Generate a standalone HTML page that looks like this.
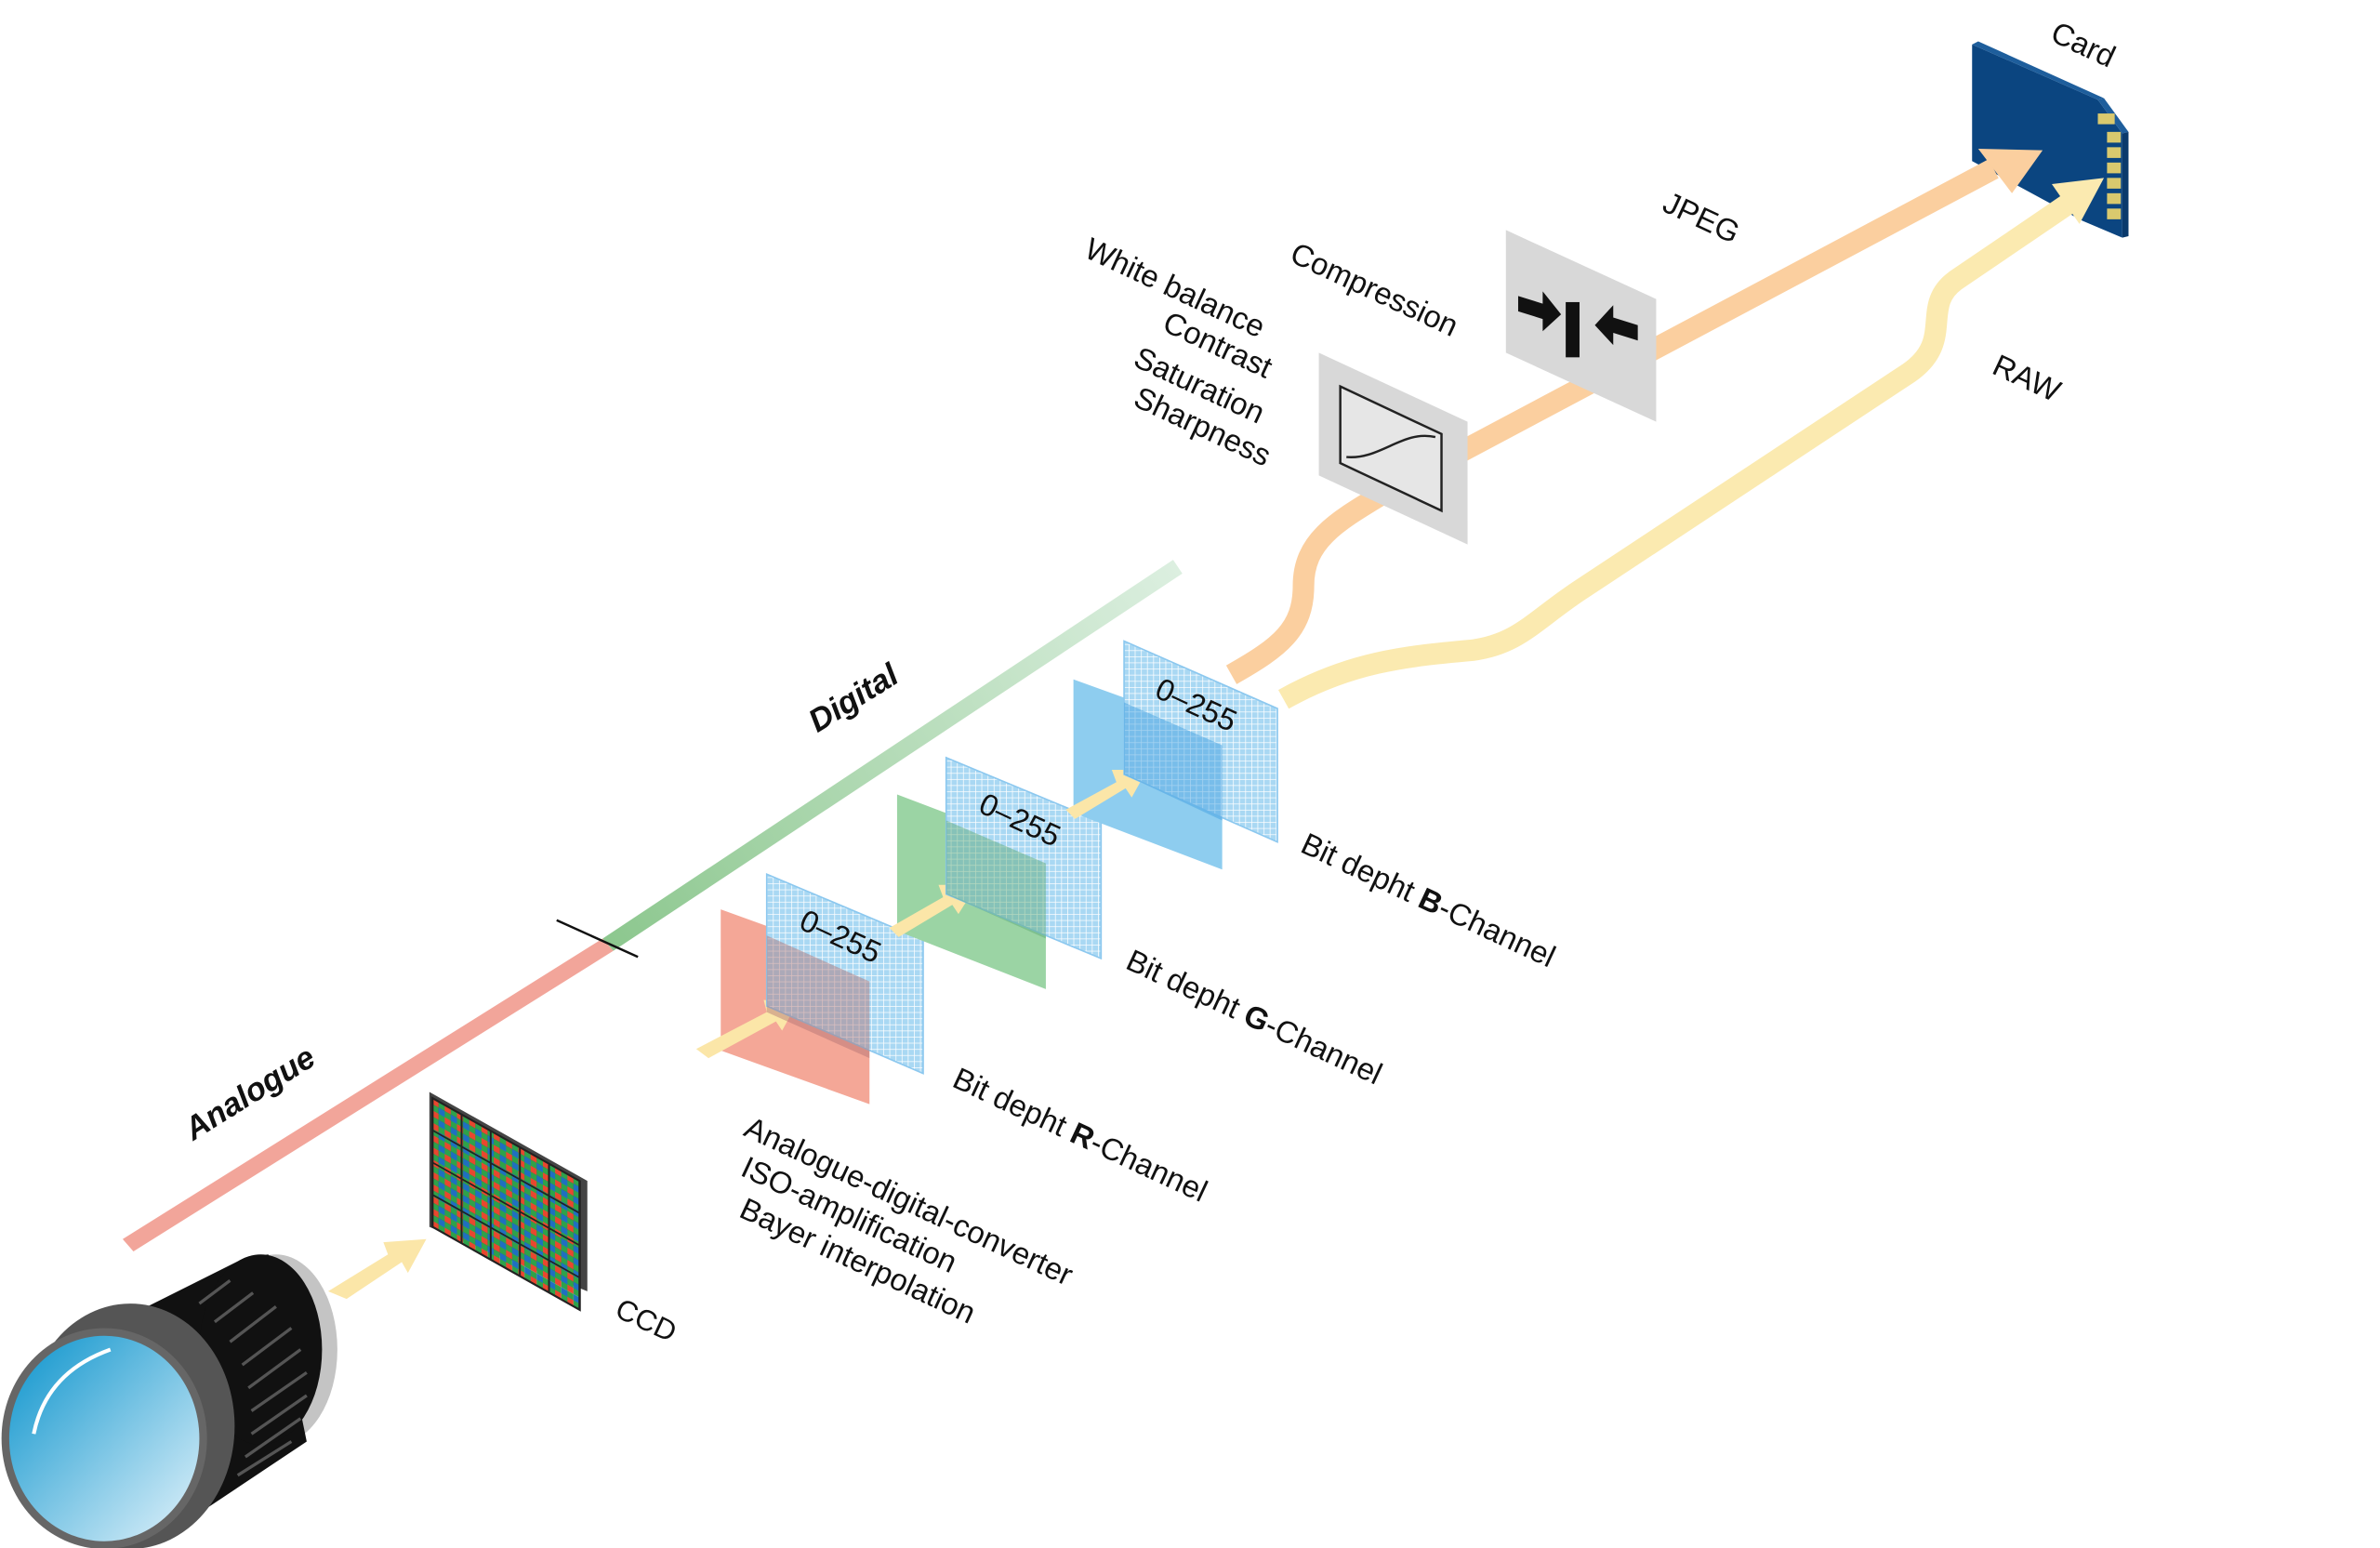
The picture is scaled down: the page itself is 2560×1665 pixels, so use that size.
<!DOCTYPE html>
<html><head><meta charset="utf-8"><style>
html,body{margin:0;padding:0;background:#fff;}
svg{display:block;}
text{font-family:"Liberation Sans","DejaVu Sans",sans-serif;fill:#111;}
</style></head><body>
<svg width="2560" height="1665" viewBox="0 0 1552 1009.4" preserveAspectRatio="none" xmlns="http://www.w3.org/2000/svg">
<defs>
<linearGradient id="dg" x1="395" y1="617" x2="768" y2="370" gradientUnits="userSpaceOnUse">
<stop offset="0" stop-color="#8cc78e"/><stop offset="1" stop-color="#dcefe0"/></linearGradient>
<pattern id="grid" width="4" height="4" patternUnits="userSpaceOnUse">
<rect width="4" height="4" fill="#a9d8f3"/><path d="M0 0H4M0 0V4" stroke="#fff" stroke-width="0.9"/></pattern>
<pattern id="bayer" width="8" height="8" patternUnits="userSpaceOnUse">
<rect width="4" height="4" fill="#e8472f"/><rect x="4" width="4" height="4" fill="#2ea24a"/>
<rect y="4" width="4" height="4" fill="#2ea24a"/><rect x="4" y="4" width="4" height="4" fill="#1f6fc0"/></pattern>
<linearGradient id="lens" x1="0" y1="0" x2="1" y2="1"><stop offset="0" stop-color="#0a93cc"/><stop offset="1" stop-color="#e3f3fb"/></linearGradient>
</defs>
<!-- analogue / digital bar -->
<polygon points="80,808 393,612 400,620 87,816" fill="#f2a59a"/>
<polygon points="393,612 765,365 771,374 400,620" fill="url(#dg)"/>
<line x1="363" y1="600" x2="416" y2="624" stroke="#111" stroke-width="1.5"/>
<text transform="translate(126,744) rotate(-32)" font-size="21" font-weight="bold" font-style="italic">Analogue</text>
<text transform="translate(533,478) rotate(-32)" font-size="21" font-weight="bold" font-style="italic">Digital</text>
<!-- lens -->
<ellipse cx="180" cy="880" rx="40" ry="62" fill="#c4c4c4"/>
<polygon points="60,870 160,820 175,818 200,940 110,1000 40,1000" fill="#111"/>
<ellipse cx="170" cy="880" rx="40" ry="62" fill="#111"/>
<g stroke="#555" stroke-width="2">
<line x1="130" y1="850" x2="150" y2="835"/><line x1="140" y1="862" x2="165" y2="843"/><line x1="150" y1="875" x2="180" y2="852"/><line x1="158" y1="890" x2="190" y2="866"/><line x1="162" y1="905" x2="196" y2="880"/><line x1="164" y1="920" x2="200" y2="895"/><line x1="164" y1="935" x2="200" y2="910"/><line x1="160" y1="950" x2="196" y2="925"/><line x1="155" y1="962" x2="190" y2="940"/>
</g>
<ellipse cx="85" cy="930" rx="68" ry="80" fill="#555"/>
<ellipse cx="68" cy="938" rx="67" ry="72" fill="#666"/>
<ellipse cx="68" cy="938" rx="62" ry="67" fill="url(#lens)"/>
<path d="M22 935 Q30 895 72 880" stroke="#fff" stroke-width="2.5" fill="none"/>
<!-- arrow to ccd -->
<polygon points="214,842 253,818 250,810 278,808 266,830 262,823 226,847" fill="#fbe6a8"/>
<!-- CCD -->
<polygon points="280,712 383,770 383,842 280,800" fill="#444"/>
<g transform="translate(282,716) skewY(29.4)">
<rect width="96" height="84" fill="url(#bayer)"/>
<g stroke="#222" stroke-width="1.2">
<line x1="19" y1="0" x2="19" y2="84"/><line x1="38" y1="0" x2="38" y2="84"/><line x1="57" y1="0" x2="57" y2="84"/><line x1="76" y1="0" x2="76" y2="84"/>
<line x1="0" y1="21" x2="96" y2="21"/><line x1="0" y1="42" x2="96" y2="42"/><line x1="0" y1="63" x2="96" y2="63"/>
</g>
<rect width="96" height="84" fill="none" stroke="#222" stroke-width="1.5"/>
</g>
<text transform="translate(400,858) rotate(25)" font-size="19">CCD</text>
<!-- R channel -->
<polygon points="470,593 567,628 567,720 470,685" fill="#f4a797"/>
<polygon points="454,684 500,660 498,652 520,654 510,672 506,666 462,690" fill="#fbe6a8"/>
<polygon points="500,570 602,613 602,700 500,656" fill="url(#grid)" stroke="#8cc8ef"/>
<polygon points="500,610 567,640 567,690 500,660" fill="#b07070" opacity="0.45"/>
<text transform="translate(520,605) rotate(25)" font-size="20">0–255</text>
<!-- G channel -->
<polygon points="585,518 682,555 682,645 585,607" fill="#9bd4a4"/>
<polygon points="580,605 615,585 612,577 637,577 625,596 621,590 586,611" fill="#fbe6a8"/>
<polygon points="617,494 718,536 718,625 617,583" fill="url(#grid)" stroke="#8cc8ef"/>
<polygon points="617,535 682,563 682,612 617,583" fill="#5aa872" opacity="0.45"/>
<text transform="translate(637,529) rotate(25)" font-size="20">0–255</text>
<!-- B channel -->
<polygon points="700,443 797,478 797,567 700,530" fill="#8ecdef"/>
<polygon points="695,528 728,510 725,502 748,502 738,520 734,514 701,534" fill="#fbe6a8"/>
<polygon points="733,418 833,462 833,549 733,505" fill="url(#grid)" stroke="#8cc8ef"/>
<polygon points="733,458 797,486 797,535 733,505" fill="#3b9ee0" opacity="0.45"/>
<text transform="translate(752,454) rotate(25)" font-size="20">0–255</text>
<!-- channel labels -->
<text transform="translate(620,708) rotate(25)" font-size="20">Bit depht <tspan font-weight="bold">R</tspan>-Channel</text>
<text transform="translate(733,631) rotate(25)" font-size="20">Bit depht <tspan font-weight="bold">G</tspan>-Channel</text>
<text transform="translate(847,555) rotate(25)" font-size="20">Bit depht <tspan font-weight="bold">B</tspan>-Channel</text>
<text transform="translate(484,740) rotate(25)" font-size="20">Analogue-digital-converter</text>
<text transform="translate(482,766) rotate(25)" font-size="20">ISO-amplification</text>
<text transform="translate(481,793) rotate(25)" font-size="20">Bayer interpolation</text>
<!-- SD card -->
<polygon points="1286,29 1368,65 1384,87 1384,155 1358,144 1286,105" fill="#0b4580"/>
<polygon points="1286,29 1290,27 1372,64 1368,65" fill="#1e5e9c"/>
<polygon points="1368,65 1372,64 1388,86 1384,87" fill="#1e5e9c"/>
<polygon points="1384,87 1388,86 1388,154 1384,155" fill="#0a3a6c"/>
<g fill="#d9c96e">
<rect x="1368" y="74" width="11" height="7"/>
<rect x="1374" y="86" width="9" height="7"/><rect x="1374" y="96" width="9" height="7"/><rect x="1374" y="106" width="9" height="7"/><rect x="1374" y="116" width="9" height="7"/><rect x="1374" y="126" width="9" height="7"/><rect x="1374" y="136" width="9" height="7"/>
</g>
<text transform="translate(1336,26) rotate(25)" font-size="20">Card</text>
<!-- ribbons -->
<path d="M803,440 C835,422 850,410 850,382 C850,352 872,340 905,320 L1300,110" stroke="#fbcf9f" stroke-width="14" fill="none"/>
<polygon points="1290,97 1332,98 1312,126" fill="#fbcf9f"/>
<path d="M837,456 C880,432 915,428 960,424 C990,420 1000,405 1030,385 L1245,243 C1275,222 1252,200 1275,183 L1350,132" stroke="#fbeab0" stroke-width="14" fill="none"/>
<polygon points="1338,120 1372,116 1356,146" fill="#fbeab0"/>
<!-- curve box -->
<polygon points="860,230 957,275 957,355 860,310" fill="#d8d8d8"/>
<polygon points="874,252 940,283 940,333 874,302" fill="#e6e6e6" stroke="#222" stroke-width="1.5"/>
<path d="M878,298 C900,300 915,280 936,285" stroke="#222" stroke-width="1.5" fill="none"/>
<text transform="translate(706,167) rotate(25)" font-size="20">White balance</text>
<text transform="translate(757,215) rotate(25)" font-size="20">Contrast</text>
<text transform="translate(738,238) rotate(25)" font-size="20">Saturation</text>
<text transform="translate(738,264) rotate(25)" font-size="20">Sharpness</text>
<!-- compression box -->
<polygon points="982,150 1080,195 1080,275 982,230" fill="#d8d8d8"/>
<rect x="1021" y="197" width="9" height="36" fill="#111"/>
<polygon points="990,193 1006,198 1006,190 1018,205 1006,216 1006,208 990,203" fill="#111"/>
<polygon points="1068,222 1052,217 1052,225 1040,212 1052,199 1052,207 1068,212" fill="#111"/>
<text transform="translate(840,170) rotate(25)" font-size="20">Compression</text>
<text transform="translate(1083,137) rotate(25)" font-size="20">JPEG</text>
<text transform="translate(1298,243) rotate(25)" font-size="20">RAW</text>
</svg>
</body></html>
